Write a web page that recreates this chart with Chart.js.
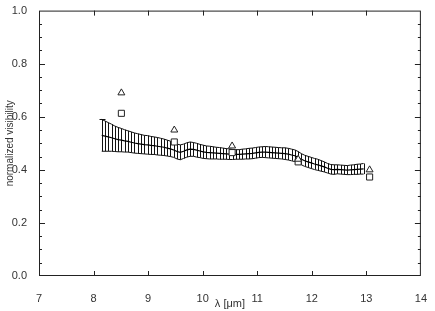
<!DOCTYPE html>
<html>
<head>
<meta charset="utf-8">
<script src="https://cdn.jsdelivr.net/npm/chart.js@4.4.1/dist/chart.umd.min.js"></script>
<style>
  html, body { margin: 0; padding: 0; background: #fff; }
  #wrap { width: 435px; height: 311px; }
</style>
</head>
<body>
<div id="wrap"><canvas id="visChart"></canvas></div>
<script>
// wavelength grid (micron) of the spectrally dispersed visibility
const lambda = [
  8.15, 8.21, 8.27, 8.33, 8.39, 8.45, 8.51, 8.57, 8.63, 8.69,
  8.75, 8.81, 8.87, 8.93, 8.99, 9.05, 9.11, 9.17, 9.23, 9.29,
  9.35, 9.41, 9.47, 9.53, 9.59, 9.65, 9.71, 9.77, 9.83, 9.89,
  9.95, 10.01, 10.07, 10.13, 10.19, 10.25, 10.31, 10.37, 10.43, 10.49,
  10.55, 10.61, 10.67, 10.73, 10.79, 10.85, 10.91, 10.97, 11.03, 11.09,
  11.15, 11.21, 11.27, 11.33, 11.39, 11.45, 11.51, 11.57, 11.63, 11.69,
  11.75, 11.81, 11.87, 11.93, 11.99, 12.05, 12.11, 12.17, 12.23, 12.29,
  12.35, 12.41, 12.47, 12.53, 12.59, 12.65, 12.71, 12.77, 12.83, 12.89,
  12.95
];
const vis = [
  0.530, 0.527, 0.524, 0.521, 0.517, 0.514, 0.512, 0.509, 0.507, 0.504,
  0.501, 0.499, 0.497, 0.495, 0.494, 0.492, 0.491, 0.489, 0.487, 0.485,
  0.482, 0.479, 0.475, 0.469, 0.466, 0.470, 0.475, 0.478, 0.477, 0.474,
  0.471, 0.468, 0.466, 0.465, 0.464, 0.463, 0.462, 0.461, 0.460, 0.459,
  0.458, 0.458, 0.458, 0.459, 0.460, 0.461, 0.462, 0.464, 0.466, 0.467,
  0.467, 0.466, 0.465, 0.464, 0.463, 0.462, 0.461, 0.459, 0.456, 0.453,
  0.447, 0.440, 0.434, 0.430, 0.426, 0.422, 0.419, 0.415, 0.411, 0.406,
  0.402, 0.401, 0.402, 0.401, 0.400, 0.399, 0.400, 0.401, 0.402, 0.403,
  0.404
];
const visErr = [
  0.060, 0.057, 0.054, 0.051, 0.048, 0.046, 0.044, 0.042, 0.040, 0.039,
  0.038, 0.037, 0.036, 0.035, 0.035, 0.034, 0.033, 0.033, 0.032, 0.031,
  0.030, 0.029, 0.028, 0.028, 0.028, 0.027, 0.027, 0.027, 0.026, 0.026,
  0.025, 0.025, 0.024, 0.024, 0.023, 0.022, 0.022, 0.021, 0.020, 0.020,
  0.019, 0.018, 0.018, 0.019, 0.019, 0.020, 0.020, 0.020, 0.020, 0.020,
  0.021, 0.021, 0.021, 0.021, 0.021, 0.021, 0.022, 0.022, 0.022, 0.022,
  0.022, 0.021, 0.021, 0.021, 0.021, 0.021, 0.021, 0.020, 0.019, 0.018,
  0.018, 0.018, 0.017, 0.017, 0.017, 0.017, 0.018, 0.018, 0.019, 0.019,
  0.020
];

// model visibilities (triangles and squares)
const modelLambda = [8.51, 9.48, 10.54, 11.75, 13.06];
const triVis = [0.69, 0.55, 0.49, 0.44, 0.40];
const sqVis = [0.613, 0.505, 0.465, 0.43, 0.373];

const xMin = 7, xMax = 14;
const yMin = 0, yMax = 1;

const FONT = "'Liberation Sans', Arial, sans-serif";
const TEXT = '#333';

const pts = (xs, ys) => xs.map((x, i) => ({ x: x, y: ys[i] }));

// vertical error bars, snapped to whole pixels so they stay thin
const errorBars = {
    id: 'errorBars',
    beforeDatasetsDraw(chart) {
        const { ctx, scales } = chart;
        ctx.save();
        ctx.strokeStyle = '#111';
        ctx.lineWidth = 1;
        ctx.beginPath();
        lambda.forEach((x, i) => {
            const px = Math.round(scales.x.getPixelForValue(x)) + 0.5;
            const top = scales.y.getPixelForValue(vis[i] + visErr[i]);
            const bot = scales.y.getPixelForValue(vis[i] - visErr[i]);
            ctx.moveTo(px, top); ctx.lineTo(px, bot);
        });
        // cap on the first bar
        const p0 = Math.round(scales.x.getPixelForValue(lambda[0])) + 0.5;
        const t0 = Math.round(scales.y.getPixelForValue(vis[0] + visErr[0])) + 0.5;
        ctx.moveTo(p0 - 3, t0); ctx.lineTo(p0 + 3, t0);
        ctx.stroke();
        ctx.restore();
    }
};

// inward IDL-style ticks on all four sides + the box
const frameTicks = {
    id: 'frameTicks',
    afterDraw(chart) {
        const { ctx, chartArea: a, scales } = chart;
        ctx.save();
        ctx.strokeStyle = '#222';
        ctx.lineWidth = 1;
        ctx.strokeRect(a.left + 0.5, a.top + 0.5, a.right - a.left - 1, a.bottom - a.top - 1);
        ctx.beginPath();
        scales.x.ticks.forEach(t => {
            if (t.value <= xMin || t.value >= xMax) return;
            const px = Math.round(scales.x.getPixelForValue(t.value)) + 0.5;
            ctx.moveTo(px, a.bottom); ctx.lineTo(px, a.bottom - 5);
            ctx.moveTo(px, a.top); ctx.lineTo(px, a.top + 5);
        });
        scales.y.ticks.forEach(t => {
            if (t.value <= yMin + 1e-6 || t.value >= yMax - 1e-6) return;
            const major = Math.round(t.value * 100) % 20 === 0;
            const len = major ? 6 : 3;
            const py = Math.round(scales.y.getPixelForValue(t.value)) + 0.5;
            ctx.moveTo(a.left, py); ctx.lineTo(a.left + len, py);
            ctx.moveTo(a.right, py); ctx.lineTo(a.right - len, py);
        });
        ctx.stroke();
        ctx.restore();
    }
};

const ctx = document.getElementById('visChart').getContext('2d');

const chart = new Chart(ctx, {
    type: 'line',
    data: {
        datasets: [
            {
                label: 'upper',
                data: pts(lambda, vis.map((v, i) => v + visErr[i])),
                borderColor: '#111',
                borderWidth: 1,
                pointRadius: 0,
                tension: 0,
                order: 2
            },
            {
                label: 'lower',
                data: pts(lambda, vis.map((v, i) => v - visErr[i])),
                borderColor: '#111',
                borderWidth: 1,
                pointRadius: 0,
                tension: 0,
                order: 2
            },
            {
                label: 'visibility',
                data: pts(lambda, vis),
                borderColor: '#000',
                borderWidth: 1.2,
                pointRadius: 0,
                tension: 0,
                order: 1
            },
            {
                label: 'model A',
                data: pts(modelLambda, triVis),
                showLine: false,
                pointStyle: 'triangle',
                pointRadius: 4,
                borderColor: '#222',
                borderWidth: 1,
                backgroundColor: '#fff',
                order: 0
            },
            {
                label: 'model B',
                data: pts(modelLambda, sqVis),
                showLine: false,
                pointStyle: 'rect',
                pointRadius: 4.3,
                borderColor: '#222',
                borderWidth: 1,
                backgroundColor: '#fff',
                order: 0
            }
        ]
    },
    options: {
        responsive: true,
        maintainAspectRatio: false,
        animation: false,
        layout: { padding: { top: 5, right: 7, left: 0, bottom: 0 } },
        plugins: {
            legend: { display: false },
            tooltip: { enabled: false }
        },
        scales: {
            x: {
                type: 'linear',
                min: xMin,
                max: xMax,
                offset: false,
                grid: { display: false },
                border: { display: false },
                ticks: {
                    stepSize: 1,
                    color: TEXT,
                    padding: 8,
                    font: { family: FONT, size: 11 }
                },
                title: {
                    display: true,
                    text: 'λ [μm]',
                    color: TEXT,
                    padding: { top: 0, bottom: 0 },
                    font: { family: FONT, size: 11 }
                },
                afterFit: s => { s.height = 35; }
            },
            y: {
                min: yMin,
                max: yMax,
                grid: { display: false },
                border: { display: false },
                ticks: {
                    stepSize: 0.05,
                    autoSkip: false,
                    color: TEXT,
                    padding: 4,
                    font: { family: FONT, size: 11 },
                    callback: v => (Math.round(v * 100) % 20 === 0 ? v.toFixed(1) : '')
                },
                title: {
                    display: true,
                    text: 'normalized visibility',
                    color: TEXT,
                    padding: { top: 4, bottom: 0 },
                    font: { family: FONT, size: 10 }
                },
                afterFit: s => { s.width = 39; }
            }
        }
    },
    plugins: [errorBars, frameTicks]
});
</script>
</body>
</html>
